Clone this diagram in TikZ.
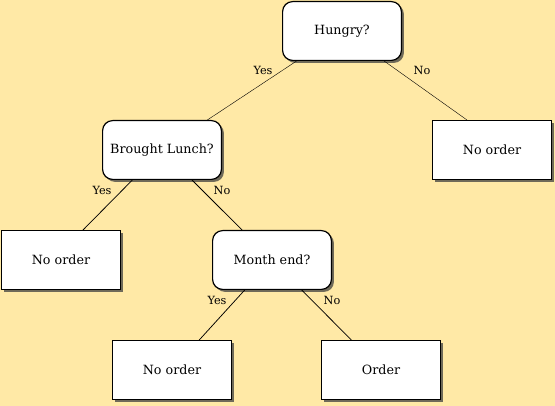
\documentclass[tikz,border=0pt]{standalone}
\usepackage{fontspec}
\setmainfont{DejaVu Serif}
\usetikzlibrary{shadows}
\definecolor{bg}{RGB}{255,233,166}
\tikzset{
  box/.style={draw=black, line width=1.2pt, fill=white, minimum width=118.8pt, minimum height=58.8pt,
    inner sep=0pt, font=\fontsize{12.7}{15}\selectfont,
    drop shadow={shadow xshift=2.5pt, shadow yshift=-2.5pt, fill=black!75, opacity=0.75}},
  decision/.style={box, rounded corners=10pt},
  leaf/.style={box},
  edgethin/.style={draw=black, line width=0.4pt},
  edgeline/.style={draw=black, line width=0.75pt},
  lbl/.style={font=\fontsize{11.3}{13}\selectfont, inner sep=0pt}
}
\begin{document}
\begin{tikzpicture}[x=1pt,y=-1pt]
\fill[bg] (0,0) rectangle (555,406);
\useasboundingbox (0,0) rectangle (555,406);
\node[decision] (hungry) at (342,31) {Hungry?};
\node[decision] (lunch) at (162,150) {Brought Lunch?};
\node[leaf] (no1) at (492,150) {No order};
\node[leaf] (no2) at (61,260) {No order};
\node[decision] (month) at (272,260) {Month end?};
\node[leaf] (no3) at (172,370) {No order};
\node[leaf] (order) at (381,370) {Order};
\draw[edgethin] (hungry) -- (lunch);
\draw[edgethin] (hungry) -- ([xshift=-25pt]no1.north);
\draw[edgeline] (lunch) -- ([xshift=22pt]no2.north);
\draw[edgeline] (lunch) -- (month);
\draw[edgeline] (month) -- (no3);
\draw[edgeline] (month) -- (order);
\node[lbl] (l1) at (263,70) {Yes};
\node[lbl] (l2) at (422,70) {No};
\node[lbl] (l3) at (102,190) {Yes};
\node[lbl] (l4) at (222,190) {No};
\node[lbl] (l5) at (217,300) {Yes};
\node[lbl] (l6) at (332,300) {No};
\end{tikzpicture}
\end{document}
